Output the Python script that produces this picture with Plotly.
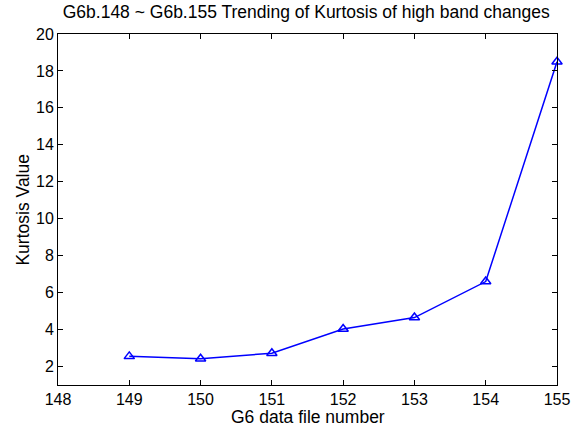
import plotly.graph_objects as go

# Kurtosis of the high band for data files G6b.149 .. G6b.155
file_numbers = [149, 150, 151, 152, 153, 154, 155]
kurtosis = [2.55, 2.42, 2.72, 4.03, 4.65, 6.6, 18.5]

x_ticks = [148, 149, 150, 151, 152, 153, 154, 155]
y_ticks = [2, 4, 6, 8, 10, 12, 14, 16, 18, 20]

family = "Liberation Sans, Arial, sans-serif"
tick_font = dict(family=family, size=16, color="black")
label_font = dict(family=family, size=17.5, color="black")

fig = go.Figure(
    go.Scatter(
        x=file_numbers,
        y=kurtosis,
        mode="lines+markers",
        line=dict(color="#0000ff", width=1.5),
        marker=dict(symbol="triangle-up-open", size=9, color="#0000ff",
                    line=dict(width=1.5, color="#0000ff")),
        cliponaxis=False,
    )
)

axis_common = dict(
    showline=True, linecolor="black", linewidth=1, mirror="allticks",
    ticks="inside", ticklen=5, tickwidth=1, tickcolor="black",
    showgrid=False, zeroline=False, tickfont=tick_font, automargin=False,
)

fig.update_xaxes(
    range=[148, 155], tickvals=x_ticks, ticktext=[str(v) for v in x_ticks],
    **axis_common,
)
fig.update_yaxes(
    range=[1, 20], tickvals=y_ticks, ticktext=[str(v) for v in y_ticks],
    ticklabelstandoff=0,
    **axis_common,
)

# Axis titles placed in paper coordinates so the plot area keeps its size
fig.add_annotation(text="G6 data file number", font=label_font, showarrow=False,
                   xref="paper", yref="paper", x=0.5, y=-0.092,
                   xanchor="center", yanchor="middle")
fig.add_annotation(text="Kurtosis Value", font=label_font, showarrow=False,
                   textangle=-90, xref="paper", yref="paper", x=-0.072, y=0.5,
                   xanchor="center", yanchor="middle")

fig.update_layout(
    width=581, height=428,
    margin=dict(l=58, r=24, t=34, b=43),
    paper_bgcolor="white", plot_bgcolor="white",
    showlegend=False,
    font=tick_font,
    title=dict(text="G6b.148 ~ G6b.155 Trending of Kurtosis of high band changes",
               x=0.527, xanchor="center", y=0.972, yanchor="middle", font=label_font),
)

fig.write_html("out.html")
